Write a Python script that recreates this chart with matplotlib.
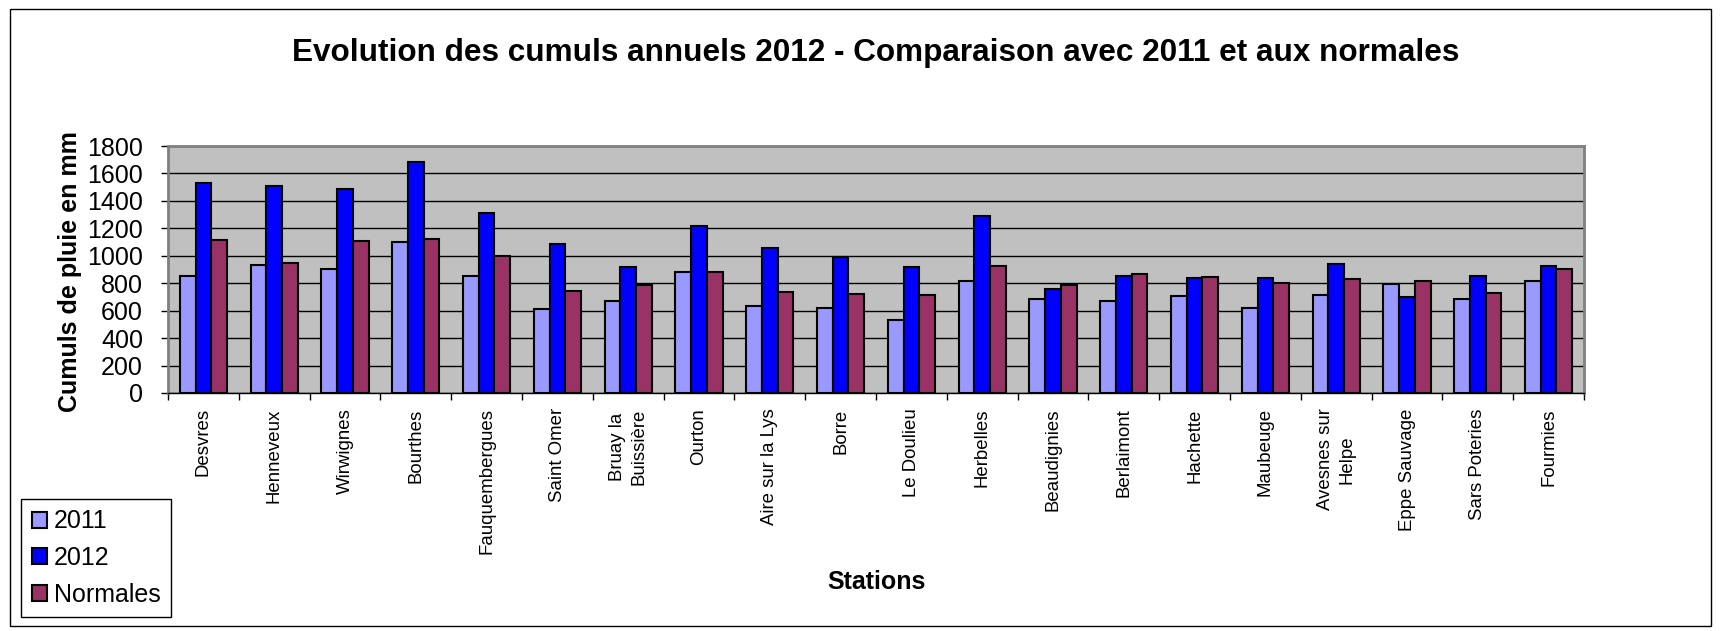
import matplotlib
matplotlib.use("Agg")
import matplotlib.pyplot as plt
import numpy as np
from matplotlib.patches import Rectangle

plt.rcParams['font.family'] = ['Liberation Sans', 'DejaVu Sans']

stations = ["Desvres", "Henneveux", "Wirwignes", "Bourthes", "Fauquembergues",
            "Saint Omer", "Bruay la\nBuissière", "Ourton", "Aire sur la Lys", "Borre",
            "Le Doulieu", "Herbelles", "Beaudignies", "Berlaimont", "Hachette",
            "Maubeuge", "Avesnes sur\nHelpe", "Eppe Sauvage", "Sars Poteries", "Fourmies"]
v2011 = [850, 930, 902, 1100, 850, 615, 668, 882, 632, 622, 532, 818, 685, 673, 709, 619, 716, 794, 687, 818]
v2012 = [1534, 1510, 1486, 1684, 1313, 1088, 915, 1219, 1054, 991, 915, 1287, 755, 855, 840, 835, 937, 700, 850, 923]
vnorm = [1112, 947, 1109, 1124, 1000, 743, 789, 881, 733, 719, 712, 928, 789, 867, 845, 804, 833, 818, 729, 903]
series_names = ["2011", "2012", "Normales"]
series_colors = ["#9999FF", "#0000FF", "#993366"]
yticks = [0, 200, 400, 600, 800, 1000, 1200, 1400, 1600, 1800]

W, H = 1720, 631
fig = plt.figure(figsize=(W / 100, H / 100), dpi=100)

# outer chart border
fig.add_artist(Rectangle((10 / W, 1 - 626 / H), 1701 / W, 617 / H, transform=fig.transFigure,
                         fill=False, edgecolor='black', linewidth=1))

ax = fig.add_axes([168 / W, 1 - 393 / H, 1416 / W, 247 / H])
ax.set_facecolor('#C0C0C0')

n = len(stations)
x = np.arange(n) + 0.5
bw = 1 / 4.5
handles = []
for k, (vals, name, col) in enumerate(zip([v2011, v2012, vnorm], series_names, series_colors)):
    b = ax.bar(x + (k - 1) * bw, vals, width=bw, color=col, edgecolor='black',
               linewidth=1.5, label=name, zorder=3)
    handles.append(b)

ax.set_xlim(0, n)
ax.set_ylim(0, 1800)
ax.set_yticks(yticks)
ax.set_yticklabels([str(t) for t in yticks], fontsize=18)
ax.yaxis.grid(True, color='black', linewidth=1, zorder=0)
ax.set_axisbelow(True)
ax.tick_params(axis='y', direction='out', length=5, width=1, pad=13, colors='black')

ax.set_xticks(np.arange(n + 1))
ax.set_xticklabels([])
ax.set_xticks(x, minor=True)
ax.set_xticklabels(stations, minor=True, rotation=90, fontsize=13.4, ha='center', va='top',
                   multialignment='center', linespacing=1.35)
ax.tick_params(axis='x', which='major', direction='out', length=5, width=1)
ax.tick_params(axis='x', which='minor', length=0, pad=11)

for s in ['top', 'right', 'left']:
    ax.spines[s].set_color('#808080')
    ax.spines[s].set_linewidth(2)
ax.spines['bottom'].set_color('black')
ax.spines['bottom'].set_linewidth(1)

fig.text(876 / W, 1 - 61 / H, "Evolution des cumuls annuels 2012 - Comparaison avec 2011 et aux normales",
         ha='center', va='baseline', fontsize=22.7, fontweight='bold')
fig.text(70 / W, 1 - 272 / H, "Cumuls de pluie en mm", rotation=90, ha='center', va='center',
         fontsize=18, fontweight='bold')
fig.text(876 / W, 1 - 582 / H, "Stations", ha='center', va='center', fontsize=18, fontweight='bold')

leg = fig.legend(handles=handles, labels=series_names, loc='upper left',
                 bbox_to_anchor=(21 / W, 1 - 499 / H), fontsize=18, frameon=True,
                 fancybox=False, framealpha=1, edgecolor='black', handlelength=0.6,
                 handleheight=0.6, handletextpad=0.3, labelspacing=0.5, borderpad=0.42,
                 borderaxespad=0)
leg.get_frame().set_linewidth(1)

fig.savefig("out.png", dpi=100)
